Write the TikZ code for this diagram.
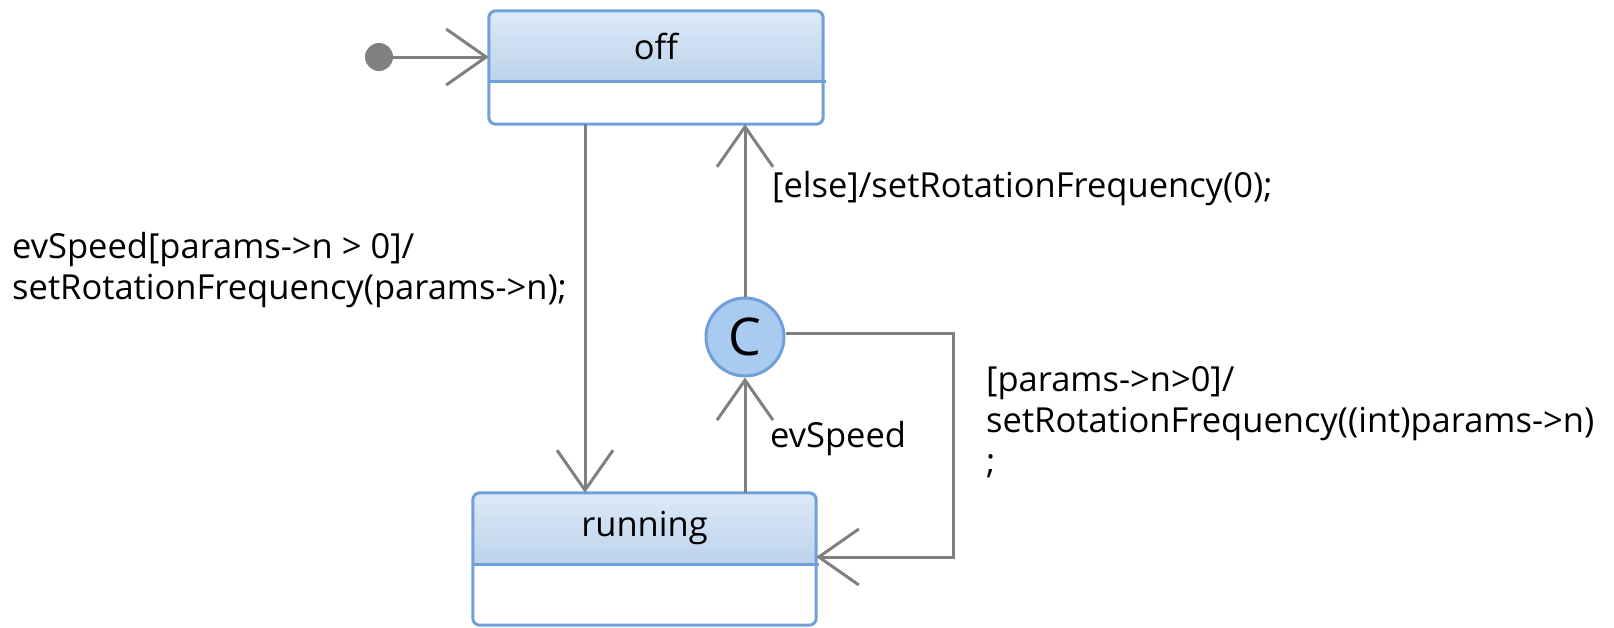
\documentclass[tikz,border=0pt]{standalone}
\usepackage{fontspec}
\setmainfont{Open Sans}
\usetikzlibrary{arrows.meta,backgrounds}
\definecolor{edge}{HTML}{6FA0D8}
\definecolor{hdtop}{HTML}{DDEAF8}
\definecolor{hdbot}{HTML}{BCD2EC}
\definecolor{chfill}{HTML}{A9CBEF}
\definecolor{line}{HTML}{808080}
\tikzset{
  txt/.style={font=\fontsize{34.5}{41}\selectfont, inner sep=0pt, align=left},
  statebox/.style={rectangle, inner sep=0pt},
  trans/.style={draw=line, line width=3pt, -{Straight Barb[length=40pt,width=56pt]}},
  choicenode/.style={circle, draw=edge, fill=chfill, line width=3pt, minimum size=78pt, inner sep=0pt, font=\fontsize{52}{52}\selectfont},
  initnode/.style={circle, fill=line, minimum size=28pt, inner sep=0pt},
}
\newcommand{\statedraw}[2]{% name, divider y
  \begin{scope}[on background layer]
    \shade[top color=hdtop, bottom color=hdbot]
      (#1.west |- 0,#2) [rounded corners=7pt] -- (#1.north west) -- (#1.north east) [sharp corners] -- (#1.east |- 0,#2) -- cycle;
  \end{scope}
  \draw[edge, line width=3pt, rounded corners=7pt] (#1.north west) rectangle (#1.south east);
  \draw[edge, line width=3pt] (#1.west |- 0,#2) -- ([xshift=3pt]#1.east |- 0,#2);
}
\begin{document}
\begin{tikzpicture}[x=1pt,y=-1pt]
\useasboundingbox (0,0) rectangle (1614,627);
% states
\node[statebox, minimum width=334pt, minimum height=113pt] (off) at (656,67.5) {};
\statedraw{off}{81}
\node[txt, anchor=center] (offlbl) at (656,46) {off};
\node[statebox, minimum width=343pt, minimum height=132pt] (running) at (644.5,559) {};
\statedraw{running}{564}
\node[txt, anchor=center] (runlbl) at (644.5,528) {running};
% initial
\node[initnode] (init) at (379,57) {};
\draw[trans] (init) -- (off.west |- init);
% choice
\node[choicenode] (ch) at (745,337) {C};
% coordinates
\coordinate (c1) at (585,0);
\coordinate (bend) at (953,557);
% transitions
\draw[trans] (off.south -| c1) -- (running.north -| c1);
\draw[trans] (running.north -| ch) -- (ch.south);
\draw[trans] (ch.north) -- (off.south -| ch);
\draw[trans] ([yshift=4pt]ch.east) -| (bend) -- (running.east |- bend);
% labels
\node[txt, anchor=west] (l1) at (772,189) {[else]/setRotationFrequency(0);};
\node[txt, anchor=west] (l2) at (12,270) {evSpeed[params->n > 0]/\\setRotationFrequency(params->n);};
\node[txt, anchor=west] (l3) at (770,439) {evSpeed};
\node[txt, anchor=west] (l4) at (986,422) {[params->n>0]/\\setRotationFrequency((int)params->n)\\;};
\end{tikzpicture}
\end{document}
